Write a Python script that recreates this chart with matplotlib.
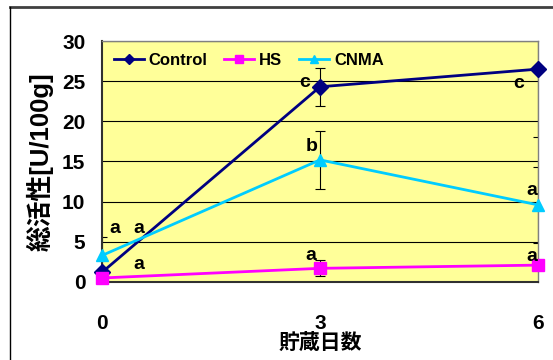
import matplotlib
matplotlib.use('Agg')
import matplotlib.pyplot as plt
from matplotlib.lines import Line2D

plt.rcParams['font.family'] = ['Liberation Sans', 'Noto Sans CJK JP']
plt.rcParams['font.weight'] = 'bold'

# storage days and total activity [U/100g]
days = [0, 3, 6]
series_names = ['Control', 'HS', 'CNMA']
control = [1.2, 24.3, 26.5]
hs = [0.5, 1.7, 2.1]
cnma = [3.3, 15.2, 9.6]
control_err = [0.5, 2.35, 8.5]
hs_err = [0.3, 1.0, 0.3]
cnma_err = [2.3, 3.6, 4.7]
control_sig = ['a', 'c', 'c']
hs_sig = ['a', 'a', 'a']
cnma_sig = ['a', 'b', 'a']
yticks = [0, 5, 10, 15, 20, 25, 30]

colors = ['#000080', '#FF00FF', '#00CCFF']
markers = ['D', 's', '^']
msizes = [8, 8.5, 9]
# pixel offsets for the significance letters
sig_offsets = [
    [(37, 44), (-15, 4), (-19, -14)],
    [(37, 13), (-9, 13), (-6, 9)],
    [(13, 27), (-8, 13), (-6, 14)],
]

fig = plt.figure(figsize=(5.53, 3.6), dpi=100)
ax = fig.add_axes([0.1844, 0.2167, 0.7885, 0.6694])
ax.set_facecolor('#FFFF99')

# outer chart frame
fig.add_artist(Line2D([0.018, 1.0], [0.9806, 0.9806], color='#404040', lw=2))
fig.add_artist(Line2D([0.018, 0.018], [0.0, 0.9806], color='black', lw=1))

values = [control, hs, cnma]
errs = [control_err, hs_err, cnma_err]
sigs = [control_sig, hs_sig, cnma_sig]

for vals, err in zip(values, errs):
    ax.errorbar(days, vals, yerr=err, fmt='none', ecolor='black',
                elinewidth=0.8, capsize=3.5, capthick=0.8, zorder=2)

for name, vals, c, m, ms in zip(series_names, values, colors, markers, msizes):
    ax.plot(days, vals, color=c, lw=2, marker=m, markersize=ms,
            label=name, clip_on=False, zorder=3)

for vals, sig, offs in zip(values, sigs, sig_offsets):
    for d, v, s, o in zip(days, vals, sig, offs):
        ax.annotate(s, (d, v), xytext=o, textcoords='offset pixels',
                    ha='center', va='center', fontsize=14,
                    fontweight='bold', zorder=4)

ax.set_xlim(0, 6)
ax.set_ylim(0, 30)
ax.set_xticks(days)
ax.set_yticks(yticks)
ax.tick_params(length=0, labelsize=15, pad=12)
ax.tick_params(axis='x', pad=23)
ax.yaxis.grid(True, color='black', lw=0.8)
ax.set_axisbelow(True)

for side in ['left', 'bottom']:
    ax.spines[side].set_color('#303030')
    ax.spines[side].set_linewidth(1.5)
for side in ['top', 'right']:
    ax.spines[side].set_color('#808080')
    ax.spines[side].set_linewidth(1)

ax.set_xlabel('貯蔵日数', fontsize=15, fontweight='bold', labelpad=0)
ax.set_ylabel('総活性[U/100g]', fontsize=18.5, fontweight='bold', labelpad=6)

ax.legend(loc='upper left', bbox_to_anchor=(0.0, 1.0), ncol=3, frameon=False,
          fontsize=12, handlelength=1.8, handletextpad=0.3,
          columnspacing=1.0, markerscale=0.7, borderaxespad=0.3)

fig.savefig('out.png', dpi=100)
